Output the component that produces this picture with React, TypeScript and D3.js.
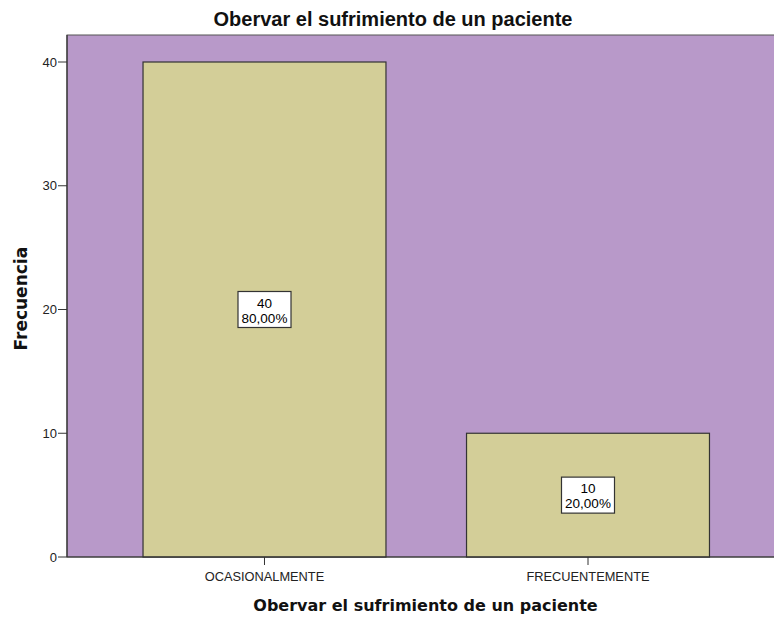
import React from "react";
import * as d3 from "d3";

const categories = ["OCASIONALMENTE", "FRECUENTEMENTE"];
const counts = [40, 10];
const percentLabels = ["80,00%", "20,00%"];
const yTicks = [0, 10, 20, 30, 40];
const title = "Obervar el sufrimiento de un paciente";
const xTitle = "Obervar el sufrimiento de un paciente";
const yTitle = "Frecuencia";

export default function App() {
  const W = 774, H = 617;
  const left = 67, top = 35, bottom = 557, right = 785.5;
  const y = d3.scaleLinear().domain([0, 40]).range([bottom, 62]);
  const x = d3.scaleBand<string>().domain(categories).range([left, right]).paddingInner(0.249).paddingOuter(0.235);
  const bw = x.bandwidth();
  const font = "'Liberation Sans', Arial, sans-serif";
  return (
    <svg width={W} height={H} style={{ position: "absolute", left: 0, top: 0, background: "#fff" }} fontFamily={font}>
      <rect x={left} y={top} width={right - left} height={bottom - top} fill="#B899C9" stroke="#555" strokeWidth={1} />
      {categories.map((c, i) => (
        <rect key={c} x={x(c)!} y={y(counts[i])} width={bw} height={bottom - y(counts[i])} fill="#D3CE98" stroke="#333" strokeWidth={1.2} />
      ))}
      {categories.map((c, i) => {
        const cx = x(c)! + bw / 2;
        const cy = y(counts[i] / 2);
        return (
          <g key={"l" + c}>
            <rect x={cx - 26.5} y={cy - 18} width={53} height={36} fill="#fff" stroke="#333" strokeWidth={1.2} />
            <text x={cx} y={cy - 2} textAnchor="middle" fontSize={13.5} fill="#000">{counts[i]}</text>
            <text x={cx} y={cy + 13} textAnchor="middle" fontSize={13.5} fill="#000">{percentLabels[i]}</text>
          </g>
        );
      })}
      <line x1={left} x2={W} y1={bottom} y2={bottom} stroke="#333" strokeWidth={1.2} />
      <line x1={left} x2={left} y1={top} y2={bottom} stroke="#333" strokeWidth={1.2} />
      {yTicks.map((t) => (
        <g key={t}>
          <line x1={left - 9} x2={left} y1={y(t)} y2={y(t)} stroke="#333" strokeWidth={1} />
          <text x={left - 10} y={y(t) + 4.5} textAnchor="end" fontSize={13} fill="#222">{t}</text>
        </g>
      ))}
      {categories.map((c) => {
        const cx = x(c)! + bw / 2;
        return (
          <g key={"t" + c}>
            <line x1={cx} x2={cx} y1={bottom} y2={bottom + 8} stroke="#333" strokeWidth={1} />
            <text x={cx} y={581} textAnchor="middle" fontSize={12.8} fill="#222">{c}</text>
          </g>
        );
      })}
      <text x={393} y={26} textAnchor="middle" fontSize={20} fontWeight="bold" fill="#111">{title}</text>
      <text x={425.5} y={611} textAnchor="middle" fontSize={16} fontWeight="bold" fill="#111" fontFamily="'DejaVu Sans', Verdana, sans-serif">{xTitle}</text>
      <text transform={`translate(27,298.7) rotate(-90)`} textAnchor="middle" fontSize={17} fontWeight="bold" fill="#111" fontFamily="'DejaVu Sans', Verdana, sans-serif">{yTitle}</text>
    </svg>
  );
}
